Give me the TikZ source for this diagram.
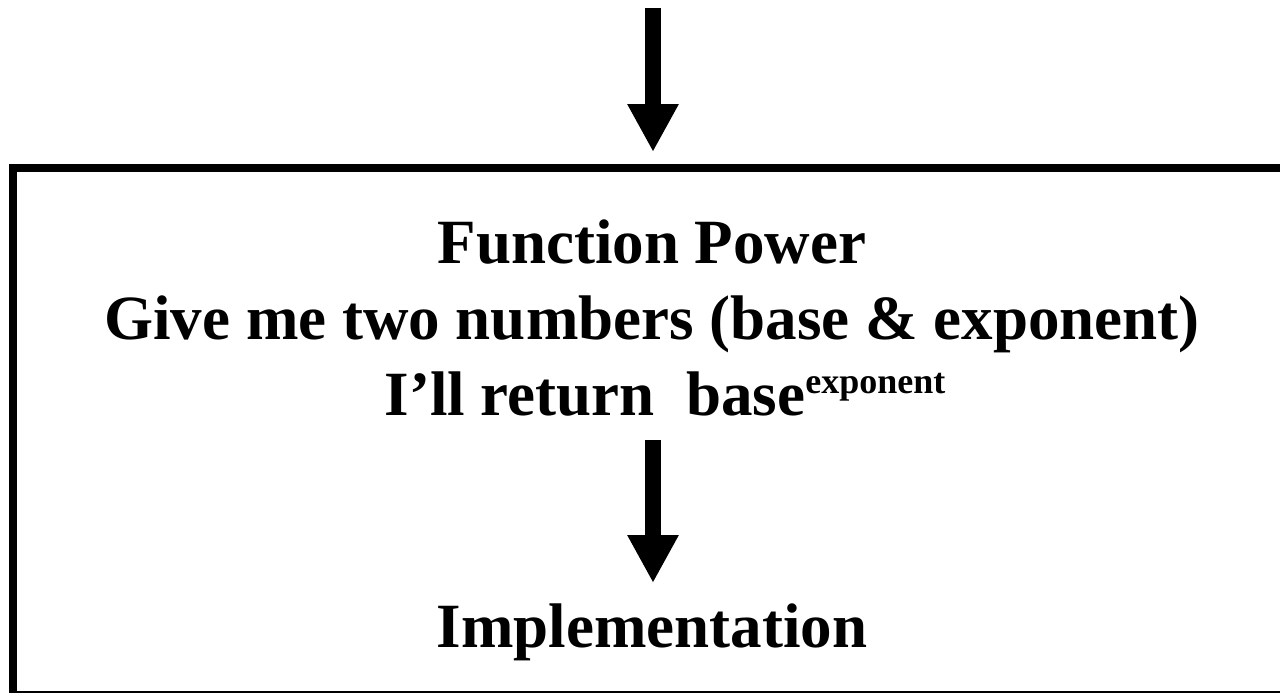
\documentclass[tikz,border=0pt]{standalone}
\usepackage{fontspec}
\setmainfont{Liberation Serif}
\usetikzlibrary{arrows.meta}
\tikzset{
  bigtext/.style={font=\fontsize{63}{75}\selectfont\bfseries, anchor=base, inner sep=0pt},
  fatarrow/.style={line width=16pt, -{Triangle[width=48pt,length=48pt]}},
  frameline/.style={line width=8pt}
}
\begin{document}
\begin{tikzpicture}[x=1pt,y=-1pt]
\useasboundingbox (0,0) rectangle (1280,693);
\begin{scope}
\clip (0,0) rectangle (1280,693);
\draw[frameline] (1300,167.5) -- (13,167.5) -- (13,700);
\draw[line width=1.5pt] (13,692) -- (1300,692);
\end{scope}
\node[bigtext] (title) at (652,263) {Function Power};
\node[bigtext] (give) at (652,339) {Give me two numbers (base \& exponent)};
\node[bigtext] (ret) at (665,415) {I’ll return\ \ base\raisebox{22pt}{\fontsize{36}{40}\selectfont exponent}};
\node[bigtext] (impl) at (652,647) {Implementation};
\coordinate (topstart) at (653,8);
\coordinate (toptip) at (653,152);
\coordinate (instart) at (653,440);
\coordinate (intip) at (653,583);
\draw[fatarrow] (topstart) -- (toptip);
\draw[fatarrow] (instart) -- (intip);
\end{tikzpicture}
\end{document}
